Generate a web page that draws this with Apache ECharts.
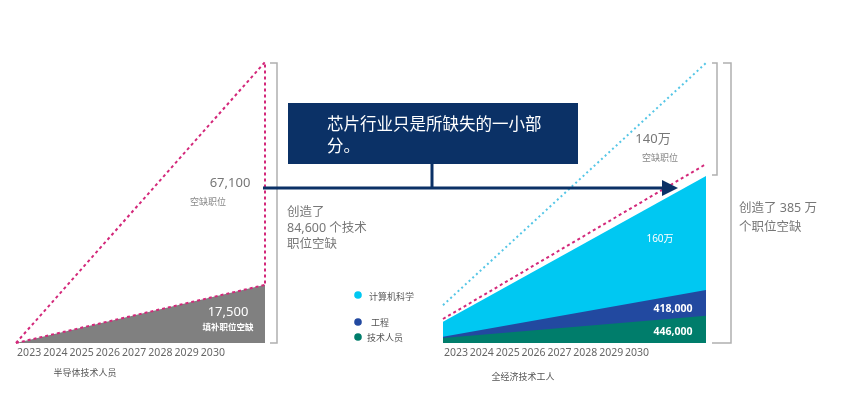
<!DOCTYPE html>
<html>
<head>
<meta charset="utf-8">
<script src="https://cdn.jsdelivr.net/npm/echarts@6/dist/echarts.min.js"></script>
<style>
  html, body { margin: 0; padding: 0; background: #fff; }
  #main { width: 865px; height: 400px; }
</style>
</head>
<body>
<div id="main"></div>
<script>
var years = ['2023', '2024', '2025', '2026', '2027', '2028', '2029', '2030'];
var ends = [2023, 2030];

// 半导体技术人员 (人)
var semiFilled = [0, 17500];
var semiTotal = [0, 84600];

// 全经济技术工人 (万)
var techStaff = [6.9, 37.5];
var engineering = [1.8, 35.3];
var computerSci = [20.6, 156.8];
var filledLine = [33, 246];
var totalLine = [52, 385];

var legendNames = ['计算机科学', '工程', '技术人员'];
var colors = ['#00c8f2', '#2249a0', '#007d6b'];

function pairs(vals) {
    return ends.map(function (x, i) { return [x, vals[i]]; });
}

// running totals, bottom layer first
function addUp(a, b) {
    return a.map(function (v, i) { return v + b[i]; });
}
var stackGreen = techStaff;
var stackBlue = addUp(stackGreen, engineering);
var stackCyan = addUp(stackBlue, computerSci);

var cjk = '"Noto Sans", "Noto Sans CJK SC", sans-serif';
var magenta = '#d3287a';

function txt(x, y, s, size, color, extra) {
    var style = {
        text: s, x: x, y: y, fill: color,
        font: (extra && extra.weight ? extra.weight + ' ' : '') + size + 'px ' + cjk,
        textAlign: (extra && extra.align) || 'center',
        textVerticalAlign: 'middle'
    };
    if (extra && extra.lineHeight) style.lineHeight = extra.lineHeight;
    return { type: 'text', z: 20, style: style };
}

function bracket(x, x0, y0, x1, y1) {
    return {
        type: 'polyline', z: 5,
        shape: { points: [[x0, y0], [x, y0], [x, y1], [x1, y1]] },
        style: { stroke: '#b0b0b0', lineWidth: 1.5, fill: null }
    };
}

function areaSeries(vals, color, z) {
    return {
        type: 'line', xAxisIndex: 1, yAxisIndex: 1, symbol: 'none', z: z,
        data: pairs(vals),
        lineStyle: { width: 0 },
        areaStyle: { color: color, opacity: 1 }
    };
}

function yearAxis(idx) {
    return {
        gridIndex: idx, type: 'category', data: years,
        axisLine: { show: false }, axisTick: { show: false },
        axisLabel: { color: '#666', fontSize: 10.5, margin: 4, interval: 0 }
    };
}

function pageInit() {
    var myChart = echarts.init(document.getElementById('main'));
    var hiddenVal = { type: 'value', show: false };
    var option = {
        animation: false,
        textStyle: { fontFamily: cjk },
        grid: [
            { left: 16, top: 62, width: 249, height: 281 },
            { left: 443, top: 63, width: 263, height: 280 },
            { left: 16, top: 343, width: 210, height: 1 },
            { left: 443, top: 343, width: 207, height: 1 }
        ],
        xAxis: [
            Object.assign({ gridIndex: 0, min: 2023, max: 2030 }, hiddenVal),
            Object.assign({ gridIndex: 1, min: 2023, max: 2030 }, hiddenVal),
            yearAxis(2),
            yearAxis(3)
        ],
        yAxis: [
            Object.assign({ gridIndex: 0, min: 0, max: 84600 }, hiddenVal),
            Object.assign({ gridIndex: 1, min: 0, max: 385 }, hiddenVal),
            Object.assign({ gridIndex: 2 }, hiddenVal),
            Object.assign({ gridIndex: 3 }, hiddenVal)
        ],
        series: [
            {
                type: 'line', xAxisIndex: 0, yAxisIndex: 0, symbol: 'none',
                data: pairs(semiFilled),
                lineStyle: { color: magenta, width: 2, type: [3, 3] },
                areaStyle: { color: '#808080', opacity: 1 }
            },
            {
                type: 'line', xAxisIndex: 0, yAxisIndex: 0, symbol: 'none', z: 3,
                data: pairs(semiTotal).concat([[2030, semiFilled[1]]]),
                lineStyle: { color: magenta, width: 2, type: [3, 3] }
            },
            areaSeries(stackCyan, colors[0], 2),
            areaSeries(stackBlue, colors[1], 3),
            areaSeries(stackGreen, colors[2], 4),
            {
                type: 'line', xAxisIndex: 1, yAxisIndex: 1, symbol: 'none', z: 5,
                data: pairs(filledLine),
                lineStyle: { color: magenta, width: 2, type: [3, 3] }
            },
            {
                type: 'line', xAxisIndex: 1, yAxisIndex: 1, symbol: 'none', z: 5,
                data: pairs(totalLine),
                lineStyle: { color: '#55c6e6', width: 2, type: [2, 3] }
            }
        ],
        graphic: [
            // brackets
            bracket(277, 270, 63, 270, 343),
            bracket(717, 712, 63, 712, 175),
            bracket(731, 723, 63, 712, 343),
            // callout box + arrow
            { type: 'rect', z: 10, shape: { x: 288, y: 103, width: 290, height: 61 },
              style: { fill: '#0b3166' } },
            { type: 'line', z: 10, shape: { x1: 432, y1: 163, x2: 432, y2: 188 },
              style: { stroke: '#0b3166', lineWidth: 3 } },
            { type: 'line', z: 10, shape: { x1: 263, y1: 188, x2: 664, y2: 188 },
              style: { stroke: '#0b3166', lineWidth: 3 } },
            { type: 'polygon', z: 10, shape: { points: [[662, 180], [678, 188], [662, 196]] },
              style: { fill: '#0b3166' } },
            txt(327, 136, '芯片行业只是所缺失的一小部\n分。', 16.5, '#fff', { align: 'left', lineHeight: 22 }),
            // left chart notes
            txt(230, 183, '67,100', 13, '#777'),
            txt(208, 202, '空缺职位', 9, '#888'),
            txt(228, 312, '17,500', 13, '#fff'),
            txt(228, 328, '填补职位空缺', 8.5, '#fff', { weight: 'bold' }),
            txt(287, 228, '创造了\n84,600 个技术\n职位空缺', 12.5, '#777', { align: 'left', lineHeight: 16 }),
            txt(85, 373, '半导体技术人员', 9, '#555'),
            // right chart notes
            txt(653, 139, '140万', 13, '#777'),
            txt(660, 158, '空缺职位', 9, '#888'),
            txt(660, 239, '160万', 10, '#fff'),
            txt(673, 309, '418,000', 10.5, '#fff', { weight: 'bold' }),
            txt(673, 332, '446,000', 10.5, '#fff', { weight: 'bold' }),
            txt(739, 218, '创造了 385 万\n个职位空缺', 12.5, '#777', { align: 'left', lineHeight: 19 }),
            txt(523, 377, '全经济技术工人', 9, '#555'),
            // legend
            { type: 'circle', shape: { cx: 358, cy: 295, r: 3.8 }, style: { fill: colors[0] } },
            { type: 'circle', shape: { cx: 358, cy: 322, r: 3.8 }, style: { fill: colors[1] } },
            { type: 'circle', shape: { cx: 358, cy: 337, r: 3.8 }, style: { fill: colors[2] } },
            txt(369, 297, legendNames[0], 9, '#555', { align: 'left' }),
            txt(371, 323, legendNames[1], 9, '#555', { align: 'left' }),
            txt(367, 338, legendNames[2], 9, '#555', { align: 'left' })
        ]
    };
    myChart.setOption(option);
}

window.onload = function () {
    pageInit();
};
</script>
</body>
</html>
